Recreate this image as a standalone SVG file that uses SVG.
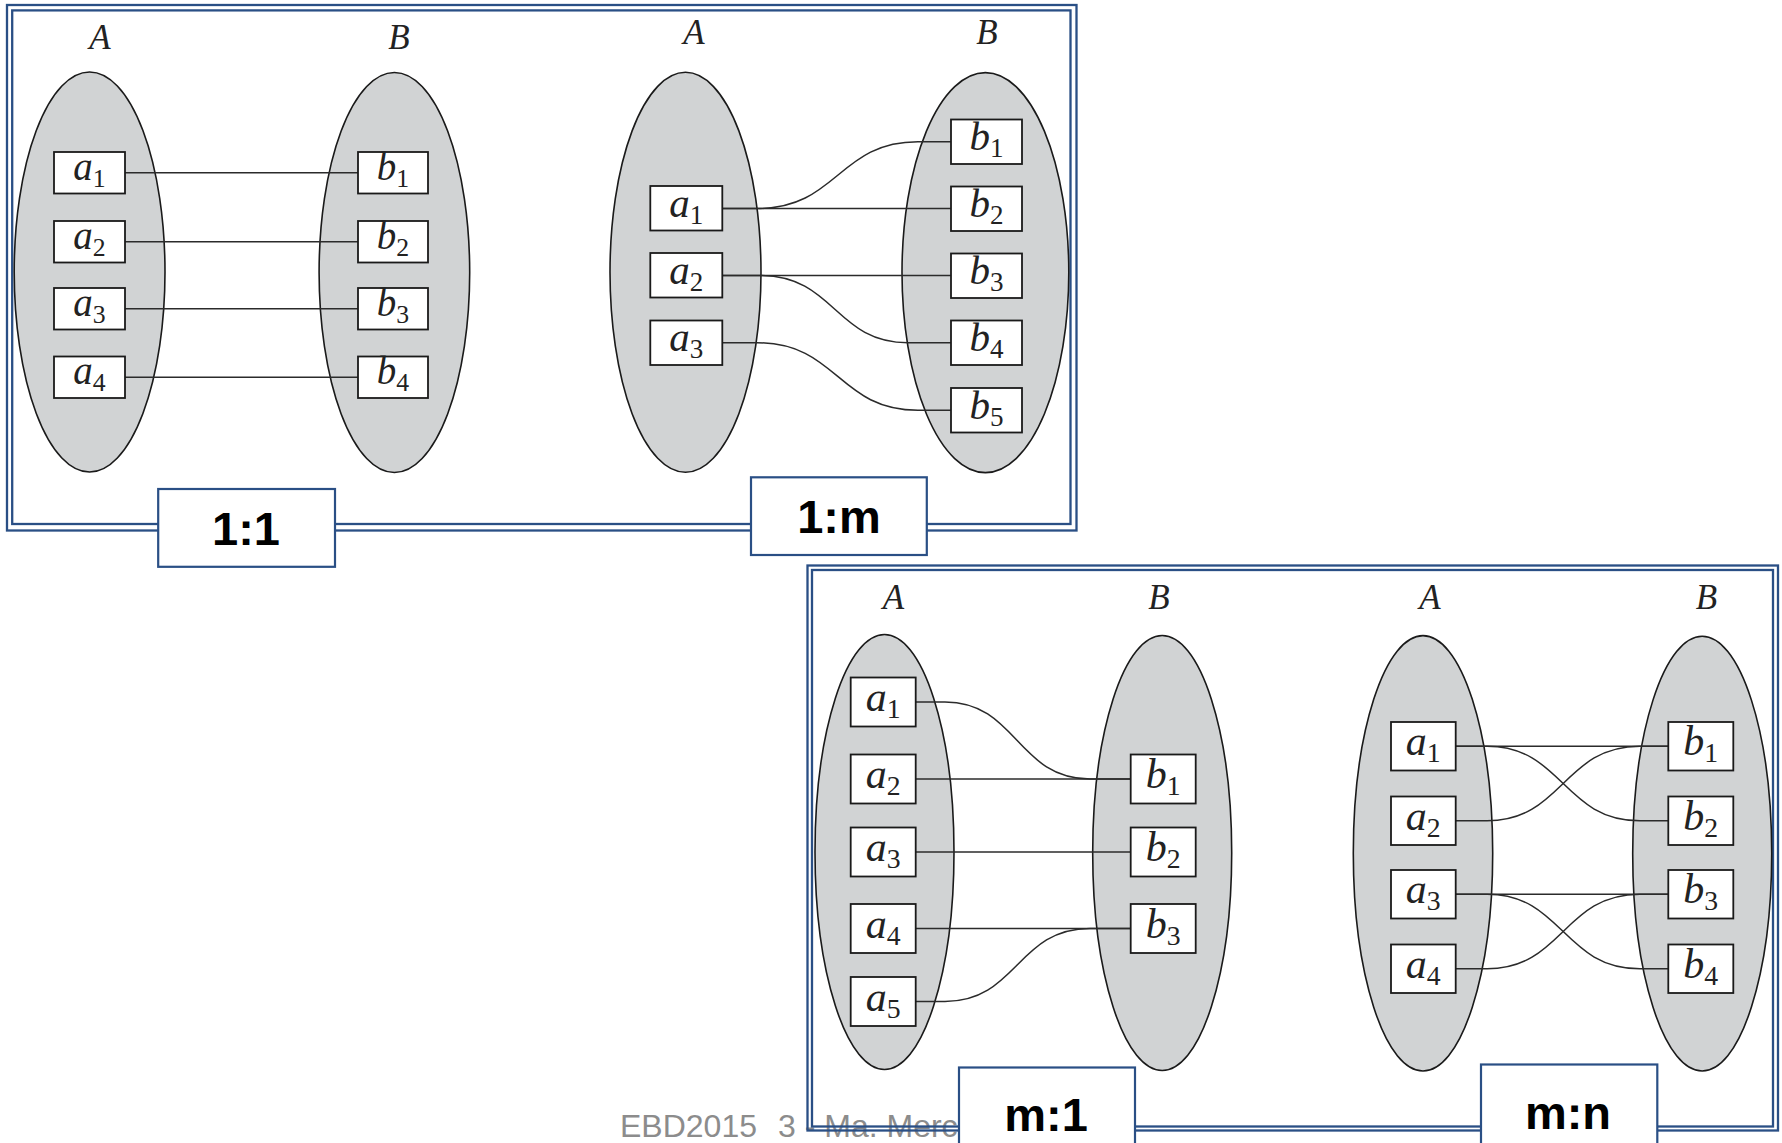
<svg xmlns="http://www.w3.org/2000/svg" width="1782" height="1143" viewBox="0 0 1782 1143">
  <style>
    .frame { fill: none; stroke: #2a4f85; stroke-width: 2.3; }
    .set { fill: #d1d3d4; stroke: #1a1a1a; stroke-width: 1.6; }
    .el { fill: #ffffff; stroke: #1a1a1a; stroke-width: 1.8; }
    .conn { fill: none; stroke: #2b2b2b; stroke-width: 1.5; }
    .setname { font-family: "Liberation Serif", "Times New Roman", serif; font-style: italic; font-size: 35px; fill: #222; text-anchor: middle; }
    .elname { font-family: "Liberation Serif", "Times New Roman", serif; font-style: italic; fill: #222; text-anchor: middle; }
    .s1 { font-size: 39px; }
    .s2 { font-size: 41px; }
    .s3 { font-size: 42px; }
    .sub { font-style: normal; font-size: 0.66em; }
    .tag { fill: #ffffff; stroke: #2a4f85; stroke-width: 2.2; }
    .tagtext { font-family: "Liberation Sans", Arial, sans-serif; font-weight: bold; font-size: 47px; fill: #000; text-anchor: middle; }
    .footer { font-family: "Liberation Sans", Arial, sans-serif; font-size: 32px; fill: #8c8c8c; }
  </style>

  <!-- slide footer, partly hidden under the lower panel -->
  <text class="footer" x="620" y="1137">EBD2015 <tspan x="778">3 - Ma. Merce</tspan></text>

  <!-- double-lined panel frames -->
  <g id="panel-top">
    <rect class="frame" x="7" y="5" width="1069.5" height="525.5"/>
    <rect class="frame" x="12.2" y="10.4" width="1058.3" height="513.6"/>
  </g>
  <g id="panel-bottom">
    <rect class="frame" x="807.5" y="565.5" width="970.5" height="565"/>
    <rect class="frame" x="812" y="570" width="961" height="556.5"/>
  </g>

  <!-- entity sets -->
  <g id="set-1-1-A"><ellipse class="set" cx="89.6" cy="272" rx="75.4" ry="200"/><text class="setname" x="100" y="49">A</text></g>
  <g id="set-1-1-B"><ellipse class="set" cx="394.4" cy="272.5" rx="75.3" ry="200"/><text class="setname" x="399" y="49">B</text></g>
  <g id="set-1-m-A"><ellipse class="set" cx="685.5" cy="272.3" rx="75.5" ry="200"/><text class="setname" x="694" y="44">A</text></g>
  <g id="set-1-m-B"><ellipse class="set" cx="985.4" cy="272.6" rx="83.4" ry="200"/><text class="setname" x="987" y="44">B</text></g>
  <g id="set-m-1-A"><ellipse class="set" cx="884.5" cy="852" rx="69.5" ry="217.5"/><text class="setname" x="893.5" y="609">A</text></g>
  <g id="set-m-1-B"><ellipse class="set" cx="1162.2" cy="853" rx="69.5" ry="217.5"/><text class="setname" x="1159" y="609">B</text></g>
  <g id="set-m-n-A"><ellipse class="set" cx="1423" cy="853.3" rx="69.7" ry="217.7"/><text class="setname" x="1430" y="609">A</text></g>
  <g id="set-m-n-B"><ellipse class="set" cx="1702.2" cy="853.6" rx="69.5" ry="217.4"/><text class="setname" x="1706.5" y="609">B</text></g>

  <!-- relationship lines -->
  <g id="connectors" class="conn">
    <!-- 1:1 -->
    <path d="M125,172.75 H358"/>
    <path d="M125,241.75 H358"/>
    <path d="M125,308.75 H358"/>
    <path d="M125,377.25 H358"/>
    <!-- 1:m -->
    <path d="M722.3,208.5 H951"/>
    <path d="M722.3,208.5 H757 C838,208.5 838,141.75 918,141.75 H951"/>
    <path d="M722.3,275.5 H951"/>
    <path d="M722.3,275.5 H760 C835,275.5 835,342.75 908,342.75 H951"/>
    <path d="M722.3,342.75 H757 C838,342.75 838,410.25 918,410.25 H951"/>
    <!-- m:1 -->
    <path d="M915.7,702 H945 C1017,702 1017,779 1090,779 H1130.7"/>
    <path d="M915.7,779 H1130.7"/>
    <path d="M915.7,852 H1130.7"/>
    <path d="M915.7,928.5 H1130.7"/>
    <path d="M915.7,1001.5 H945 C1017,1001.5 1017,928.5 1090,928.5 H1130.7"/>
    <!-- m:n -->
    <path d="M1455.7,746.25 H1668.3"/>
    <path d="M1455.7,746.25 H1487 C1563,746.25 1563,820.75 1640,820.75 H1668.3"/>
    <path d="M1455.7,820.75 H1487 C1563,820.75 1563,746.25 1640,746.25 H1668.3"/>
    <path d="M1455.7,894.25 H1668.3"/>
    <path d="M1455.7,894.25 H1487 C1563,894.25 1563,968.75 1640,968.75 H1668.3"/>
    <path d="M1455.7,968.75 H1487 C1563,968.75 1563,894.25 1640,894.25 H1668.3"/>
  </g>

  <!-- 1:1 elements -->
  <g id="p1-a1"><rect class="el" x="54" y="152" width="71" height="41.5"/><text class="elname s1" x="89.5" y="179.5">a<tspan class="sub" dy="7">1</tspan></text></g>
  <g id="p1-a2"><rect class="el" x="54" y="221" width="71" height="41.5"/><text class="elname s1" x="89.5" y="248.5">a<tspan class="sub" dy="7">2</tspan></text></g>
  <g id="p1-a3"><rect class="el" x="54" y="288" width="71" height="41.5"/><text class="elname s1" x="89.5" y="315.5">a<tspan class="sub" dy="7">3</tspan></text></g>
  <g id="p1-a4"><rect class="el" x="54" y="356.5" width="71" height="41.5"/><text class="elname s1" x="89.5" y="384">a<tspan class="sub" dy="7">4</tspan></text></g>
  <g id="p1-b1"><rect class="el" x="358" y="152" width="70" height="41.5"/><text class="elname s1" x="393" y="179.5">b<tspan class="sub" dy="7">1</tspan></text></g>
  <g id="p1-b2"><rect class="el" x="358" y="221" width="70" height="41.5"/><text class="elname s1" x="393" y="248.5">b<tspan class="sub" dy="7">2</tspan></text></g>
  <g id="p1-b3"><rect class="el" x="358" y="288" width="70" height="41.5"/><text class="elname s1" x="393" y="315.5">b<tspan class="sub" dy="7">3</tspan></text></g>
  <g id="p1-b4"><rect class="el" x="358" y="356.5" width="70" height="41.5"/><text class="elname s1" x="393" y="384">b<tspan class="sub" dy="7">4</tspan></text></g>

  <!-- 1:m elements -->
  <g id="p2-a1"><rect class="el" x="650.3" y="186" width="72" height="44.5"/><text class="elname s2" x="686.3" y="216.5">a<tspan class="sub" dy="7">1</tspan></text></g>
  <g id="p2-a2"><rect class="el" x="650.3" y="253" width="72" height="44.5"/><text class="elname s2" x="686.3" y="283.5">a<tspan class="sub" dy="7">2</tspan></text></g>
  <g id="p2-a3"><rect class="el" x="650.3" y="320.5" width="72" height="44.5"/><text class="elname s2" x="686.3" y="351">a<tspan class="sub" dy="7">3</tspan></text></g>
  <g id="p2-b1"><rect class="el" x="951" y="119.5" width="71" height="44.5"/><text class="elname s2" x="986.5" y="150">b<tspan class="sub" dy="7">1</tspan></text></g>
  <g id="p2-b2"><rect class="el" x="951" y="186.5" width="71" height="44.5"/><text class="elname s2" x="986.5" y="217">b<tspan class="sub" dy="7">2</tspan></text></g>
  <g id="p2-b3"><rect class="el" x="951" y="253.5" width="71" height="44.5"/><text class="elname s2" x="986.5" y="284">b<tspan class="sub" dy="7">3</tspan></text></g>
  <g id="p2-b4"><rect class="el" x="951" y="320.5" width="71" height="44.5"/><text class="elname s2" x="986.5" y="351">b<tspan class="sub" dy="7">4</tspan></text></g>
  <g id="p2-b5"><rect class="el" x="951" y="388" width="71" height="44.5"/><text class="elname s2" x="986.5" y="418.5">b<tspan class="sub" dy="7">5</tspan></text></g>

  <!-- m:1 elements -->
  <g id="p3-a1"><rect class="el" x="850.7" y="677.5" width="65" height="49"/><text class="elname s3" x="883.2" y="711">a<tspan class="sub" dy="7">1</tspan></text></g>
  <g id="p3-a2"><rect class="el" x="850.7" y="754.5" width="65" height="49"/><text class="elname s3" x="883.2" y="788">a<tspan class="sub" dy="7">2</tspan></text></g>
  <g id="p3-a3"><rect class="el" x="850.7" y="827.5" width="65" height="49"/><text class="elname s3" x="883.2" y="861">a<tspan class="sub" dy="7">3</tspan></text></g>
  <g id="p3-a4"><rect class="el" x="850.7" y="904" width="65" height="49"/><text class="elname s3" x="883.2" y="937.5">a<tspan class="sub" dy="7">4</tspan></text></g>
  <g id="p3-a5"><rect class="el" x="850.7" y="977" width="65" height="49"/><text class="elname s3" x="883.2" y="1010.5">a<tspan class="sub" dy="7">5</tspan></text></g>
  <g id="p3-b1"><rect class="el" x="1130.7" y="754.5" width="65" height="49"/><text class="elname s3" x="1163.2" y="788">b<tspan class="sub" dy="7">1</tspan></text></g>
  <g id="p3-b2"><rect class="el" x="1130.7" y="827.5" width="65" height="49"/><text class="elname s3" x="1163.2" y="861">b<tspan class="sub" dy="7">2</tspan></text></g>
  <g id="p3-b3"><rect class="el" x="1130.7" y="904" width="65" height="49"/><text class="elname s3" x="1163.2" y="937.5">b<tspan class="sub" dy="7">3</tspan></text></g>

  <!-- m:n elements -->
  <g id="p4-a1"><rect class="el" x="1391" y="722" width="64.7" height="48.5"/><text class="elname s3" x="1423.3" y="755">a<tspan class="sub" dy="7">1</tspan></text></g>
  <g id="p4-a2"><rect class="el" x="1391" y="796.5" width="64.7" height="48.5"/><text class="elname s3" x="1423.3" y="829.5">a<tspan class="sub" dy="7">2</tspan></text></g>
  <g id="p4-a3"><rect class="el" x="1391" y="870" width="64.7" height="48.5"/><text class="elname s3" x="1423.3" y="903">a<tspan class="sub" dy="7">3</tspan></text></g>
  <g id="p4-a4"><rect class="el" x="1391" y="944.5" width="64.7" height="48.5"/><text class="elname s3" x="1423.3" y="977.5">a<tspan class="sub" dy="7">4</tspan></text></g>
  <g id="p4-b1"><rect class="el" x="1668.3" y="722" width="65" height="48.5"/><text class="elname s3" x="1700.8" y="755">b<tspan class="sub" dy="7">1</tspan></text></g>
  <g id="p4-b2"><rect class="el" x="1668.3" y="796.5" width="65" height="48.5"/><text class="elname s3" x="1700.8" y="829.5">b<tspan class="sub" dy="7">2</tspan></text></g>
  <g id="p4-b3"><rect class="el" x="1668.3" y="870" width="65" height="48.5"/><text class="elname s3" x="1700.8" y="903">b<tspan class="sub" dy="7">3</tspan></text></g>
  <g id="p4-b4"><rect class="el" x="1668.3" y="944.5" width="65" height="48.5"/><text class="elname s3" x="1700.8" y="977.5">b<tspan class="sub" dy="7">4</tspan></text></g>

  <!-- cardinality tags -->
  <g id="tag-1-1"><rect class="tag" x="158.2" y="489" width="176.8" height="77.8"/><text class="tagtext" x="246" y="545">1:1</text></g>
  <g id="tag-1-m"><rect class="tag" x="751" y="477.3" width="175.8" height="77.7"/><text class="tagtext" x="839" y="532.7">1:m</text></g>
  <g id="tag-m-1"><rect class="tag" x="959" y="1067.5" width="176" height="80"/><text class="tagtext" x="1046" y="1131">m:1</text></g>
  <g id="tag-m-n"><rect class="tag" x="1481" y="1064.5" width="176.3" height="82"/><text class="tagtext" x="1568" y="1129">m:n</text></g>
</svg>
